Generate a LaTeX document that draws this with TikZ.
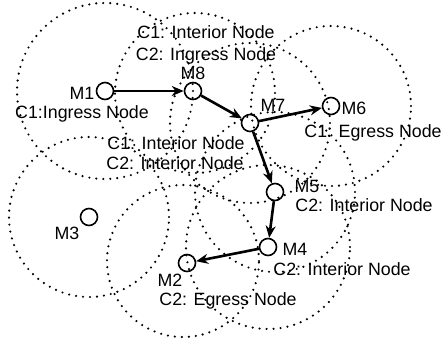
\documentclass[tikz,border=0pt]{standalone}
\usepackage{fontspec}
\setmainfont{Liberation Sans}
\usetikzlibrary{arrows.meta}
\begin{document}
\begin{tikzpicture}[x=1pt,y=-1pt,
  mnode/.style={circle, draw, line width=1.6pt, minimum size=17pt, inner sep=0pt},
  txrange/.style={draw, line width=2.4pt, dash pattern=on 0pt off 7pt, line cap=round},
  link/.style={line width=2.6pt, -{Stealth[length=12pt,width=10pt]}},
  lbl/.style={font=\fontsize{17.8}{20}\selectfont, inner sep=0pt, anchor=base}]
\useasboundingbox (0,0) rectangle (443,339);

% mobile nodes
\node[mnode] (M1) at (105,91) {};
\node[mnode] (M8) at (193,91) {};
\node[mnode] (M7) at (250,123) {};
\node[mnode] (M6) at (331,106) {};
\node[mnode] (M5) at (275,192) {};
\node[mnode] (M4) at (268,247) {};
\node[mnode] (M2) at (187,263) {};
\node[mnode] (M3) at (89,217) {};

% transmission ranges
\draw[txrange] (105,91) circle[radius=88pt];
\draw[txrange] (195,93) circle[radius=80pt];
\draw[txrange] (250,123) circle[radius=80pt];
\draw[txrange] (331,106) circle[radius=80pt];
\draw[txrange] (275,192) circle[radius=80pt];
\draw[txrange] (268,247) circle[radius=82pt];
\draw[txrange] (183,261) circle[radius=76pt];
\draw[txrange] (89,217) circle[radius=80pt];

% route
\draw[link] (M1) -- (M8);
\draw[link] (M8) -- (M7);
\draw[link] (M7) -- (M6);
\draw[link] (M7) -- (M5);
\draw[link] (M5) -- (M4);
\draw[link] (M4) -- (M2);

% labels
\node[lbl] (tM1) at (82,100) {M1};
\node[lbl] (tM1r) at (82,119) {C1:Ingress Node};
\node[lbl] (tM8a) at (206,39) {C1: Interior Node};
\node[lbl] (tM8b) at (206,61) {C2: Ingress Node};
\node[lbl] (tM8) at (193,80) {M8};
\node[lbl] (tM7) at (273,112) {M7};
\node[lbl] (tM6) at (354,114) {M6};
\node[lbl] (tM6r) at (373,137) {C1: Egress Node};
\node[lbl] (tM7a) at (176,149) {C1: Interior Node};
\node[lbl] (tM7b) at (175,169) {C2: Interior Node};
\node[lbl] (tM5) at (307,192) {M5};
\node[lbl] (tM5r) at (364,211) {C2: Interior Node};
\node[lbl] (tM3) at (67,239) {M3};
\node[lbl] (tM4) at (295,255) {M4};
\node[lbl] (tM4r) at (342,275) {C2: Interior Node};
\node[lbl] (tM2) at (170,286) {M2};
\node[lbl] (tM2r) at (228,305) {C2: Egress Node};
\end{tikzpicture}
\end{document}
